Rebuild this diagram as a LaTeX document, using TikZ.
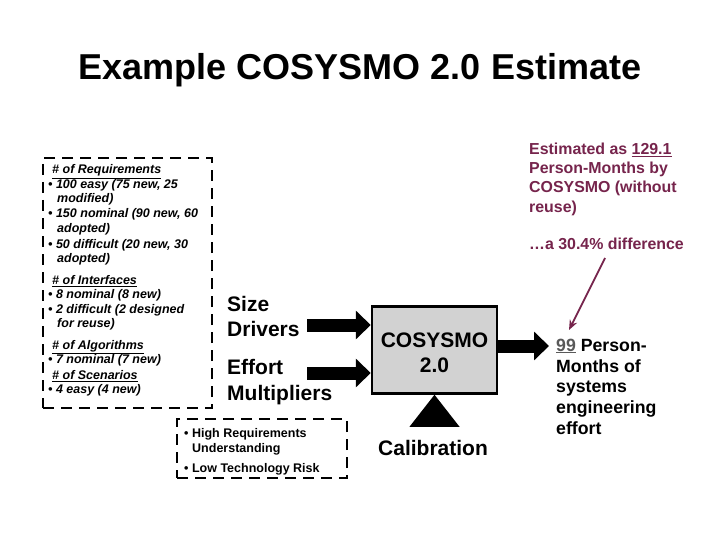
\documentclass[tikz,border=0pt]{standalone}
\usepackage{fontspec}
\setmainfont{Liberation Sans}
\usetikzlibrary{arrows.meta}
\definecolor{maroon}{RGB}{118,36,76}
\definecolor{boxgray}{RGB}{210,210,210}
\begin{document}
\begin{tikzpicture}[x=1pt,y=-1pt,
  txt/.style={anchor=base west, inner sep=0pt},
  small/.style={txt, font=\fontsize{12.5}{14}\selectfont\bfseries\itshape},
  plain/.style={txt, font=\fontsize{12.5}{14}\selectfont\bfseries},
  big/.style={txt, font=\fontsize{21}{25}\selectfont\bfseries},
  outtxt/.style={txt, font=\fontsize{17.7}{21}\selectfont\bfseries},
  dbox/.style={draw, line width=2.7pt, dash pattern=on 11pt off 7pt, inner sep=0pt},
  blk/.style={line width=13pt, -{Triangle[width=28pt,length=15pt]}},
  note/.style={txt, font=\fontsize{15.9}{19}\selectfont\bfseries, text=maroon}]
\useasboundingbox (0,0) rectangle (720,540);
\fill[white] (0,0) rectangle (720,540);

% title
\node[anchor=base, inner sep=0pt, font=\fontsize{36}{40}\selectfont\bfseries] (title) at (360,80) {Example COSYSMO 2.0 Estimate};

% left dashed box
\node[dbox, minimum width=169pt, minimum height=250pt] (drvbox) at (127.5,283) {};
\node[small] (l1) at (52,174) {\underline{\# of Requirements}};
\node[small] (l2) at (48,188.5) {• 100 easy (75 new, 25};
\node[small] (l3) at (57,203) {modified)};
\node[small] (l4) at (48,218) {• 150 nominal (90 new, 60};
\node[small] (l5) at (57,233) {adopted)};
\node[small] (l6) at (48,248) {• 50 difficult (20 new, 30};
\node[small] (l7) at (57,262.5) {adopted)};
\node[small] (l8) at (52,284.5) {\underline{\# of Interfaces}};
\node[small] (l9) at (48,298.5) {• 8 nominal (8 new)};
\node[small] (l10) at (48,313) {• 2 difficult (2 designed};
\node[small] (l11) at (57,327.5) {for reuse)};
\node[small] (l12) at (52,349.5) {\underline{\# of Algorithms}};
\node[small] (l13) at (48,363.5) {• 7 nominal (7 new)};
\node[small] (l14) at (52,379.5) {\underline{\# of Scenarios}};
\node[small] (l15) at (48,393.5) {• 4 easy (4 new)};

% bottom dashed box
\node[dbox, minimum width=170pt, minimum height=59pt] (emBox) at (262,448.5) {};
\node[plain] (b1) at (184,437) {• High Requirements};
\node[plain] (b2) at (192,452) {Understanding};
\node[plain] (b3) at (184,472) {• Low Technology Risk};

% labels
\node[big] (size) at (227,311) {Size};
\node[big] (drivers) at (227,336) {Drivers};
\node[big] (effort) at (227,374) {Effort};
\node[big] (mult) at (227,400) {Multipliers};

% COSYSMO box
\node[draw, line width=2.5pt, fill=boxgray, minimum width=125pt, minimum height=87pt, inner sep=0pt] (cos) at (434.5,350) {};
\node[anchor=base, inner sep=0pt, font=\fontsize{21}{25}\selectfont\bfseries] (cos1) at (434.5,347) {COSYSMO};
\node[anchor=base, inner sep=0pt, font=\fontsize{21}{25}\selectfont\bfseries] (cos2) at (434.5,372) {2.0};

% calibration triangle
\fill (cos.south) -- ++(-25,32) -- ++(50,0) -- cycle;
\node[anchor=base, inner sep=0pt, font=\fontsize{21}{25}\selectfont\bfseries] (cal) at (433,455) {Calibration};

% block arrows
\coordinate (sa) at (307,325);
\coordinate (ea) at (307,373);
\draw[blk] (sa) -- (cos.west |- sa);
\draw[blk] (ea) -- (cos.west |- ea);
\coordinate (oa) at (549,346);
\draw[blk] (cos.east |- oa) -- (oa);

% output text
\node[outtxt] (o1) at (556,351) {\textcolor{black!65}{\underline{99}} Person-};
\node[outtxt] (o2) at (556,372) {Months of};
\node[outtxt] (o3) at (556,392) {systems};
\node[outtxt] (o4) at (556,413) {engineering};
\node[outtxt] (o5) at (556,434) {effort};

% note
\node[note] (n1) at (529,155) {Estimated as \underline{129.1}};
\node[note] (n2) at (529,174) {Person-Months by};
\node[note] (n3) at (529,193) {COSYSMO (without};
\node[note] (n4) at (529,212) {reuse)};
\node[note] (n5) at (529,249.5) {…a 30.4\% difference};
\coordinate (ma) at (605,258);
\coordinate (mb) at (569,330);
\draw[maroon, line width=1.8pt, -{Stealth[length=10pt,width=8pt]}] (ma) -- (mb);
\end{tikzpicture}
\end{document}
